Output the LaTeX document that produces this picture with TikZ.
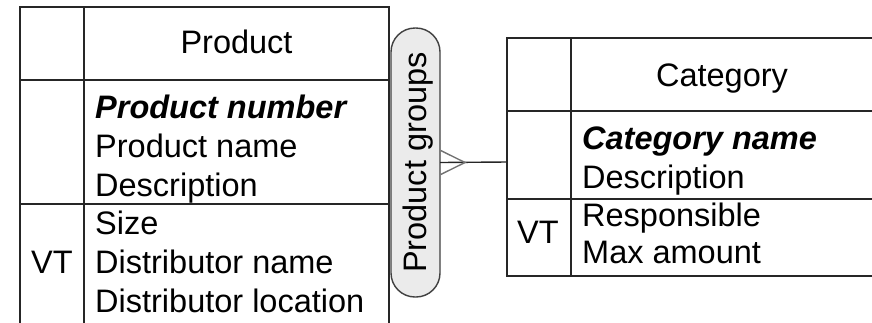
\documentclass[tikz,border=0pt]{standalone}
\usepackage{fontspec}
\setmainfont{Liberation Sans}
\usetikzlibrary{calc}

\begin{document}
\begin{tikzpicture}[x=1pt,y=-1pt,line cap=rect,
        every node/.style={font=\fontsize{32.5}{39}\selectfont,inner sep=0pt,text height=26pt,text depth=4pt},
        rule/.style={line width=1.8pt,draw=black!85},
        attr/.style={anchor=west},
        pill/.style={draw=black!75,line width=1.4pt,fill=black!8,rounded corners=24pt,
            minimum width=49pt,minimum height=269pt}]
        \useasboundingbox (0,0) rectangle (872,322);
        % Product table (runs past the bottom edge)
        \draw[rule] (20,330) -- (20,7) -- (389,7) -- (389,330);
        \draw[rule] (84,7) -- (84,330);
        \draw[rule] (20,80) -- (389,80);
        \draw[rule] (20,204) -- (389,204);
        \node (product) at (236.5,42) {Product};
        \node[attr] (pnumber) at (95,107) {\bfseries\itshape Product number};
        \foreach \ly/\txt/\nm in {146/Product name/pname,185/Description/pdesc,223/Size/psize,
            262/Distributor name/dname,301/Distributor location/dloc}{
            \node[attr] (\nm) at (95,\ly) {\txt};
        }
        \node (pvt) at (52,262) {VT};
        % Category table (runs past the right edge)
        \draw[rule] (880,38) -- (507,38) -- (507,276) -- (880,276);
        \draw[rule] (571,38) -- (571,276);
        \draw[rule] (507,111) -- (880,111);
        \draw[rule] (507,199) -- (880,199);
        \coordinate (catleft) at (507,162);
        \node (category) at (722,75) {Category};
        \node[attr] (cname) at (582,138) {\bfseries\itshape Category name};
        \node[attr] (cdesc) at (582,177) {Description};
        \node[attr] (cresp) at (582,215) {Responsible};
        \node[attr] (cmax) at (582,252) {Max amount};
        \node (cvt) at (538,232) {VT};
        % relationship
        \node[pill] (groups) at (415.5,162.5) {};
        \node[rotate=90] (glabel) at (groups) {Product groups};
        \coordinate (foot) at (465,162.5);
        \draw[line width=1.4pt,black!85] (groups.east) -- (catleft);
        \draw[line width=1.4pt,black!55,line cap=butt] ($(groups.east)+(0,-12)$) -- (foot) -- ($(groups.east)+(0,12)$);
    \end{tikzpicture}
\end{document}
